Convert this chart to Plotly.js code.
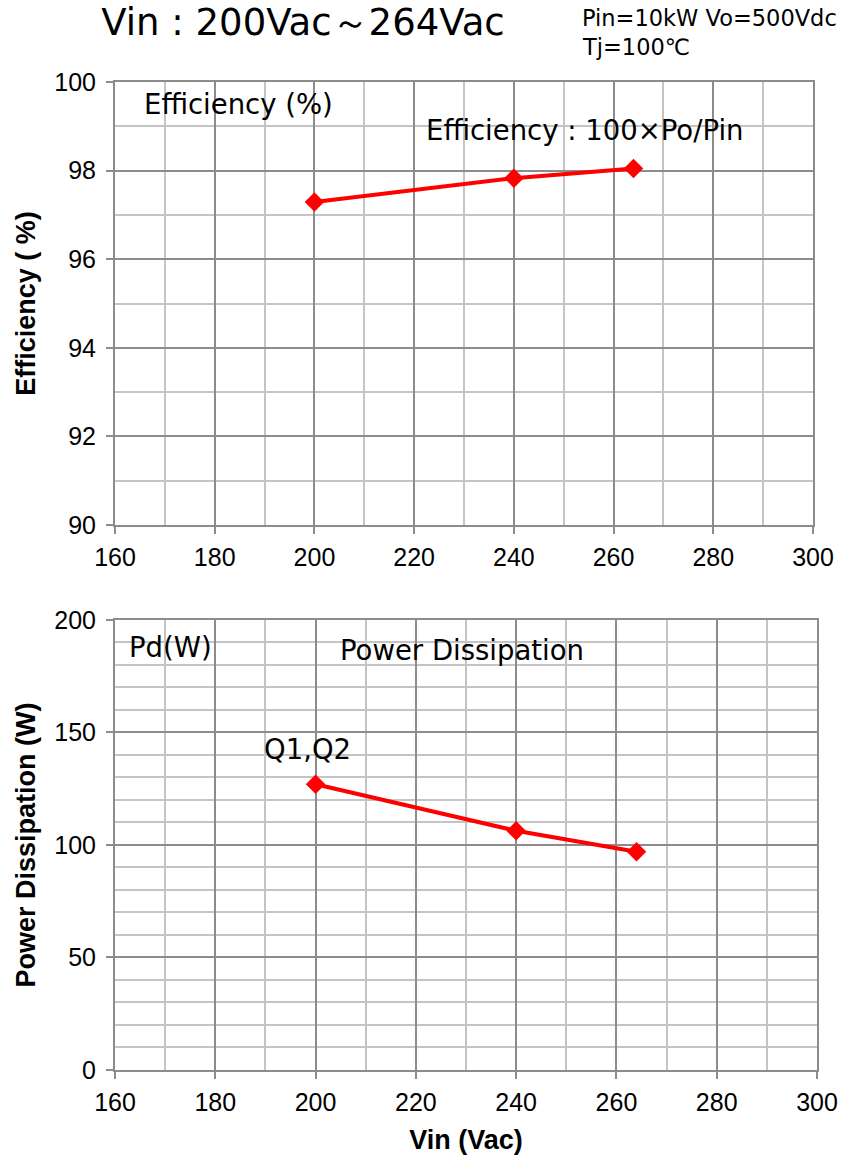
<!DOCTYPE html>
<html>
<head>
<meta charset="utf-8">
<script src="https://cdn.plot.ly/plotly-3.0.1.min.js"></script>
<style>html,body{margin:0;padding:0;background:#fff;}#chart{width:856px;height:1155px;}</style>
</head>
<body>
<div id="chart"></div>
<script>
// Data
const vin = [200, 240, 264];                 // Vin (Vac)
const efficiency = [97.29, 97.83, 98.05];    // %
const powerDissipation = [127.0, 106.3, 97.0]; // W, Q1,Q2

const effTicks = [90, 92, 94, 96, 98, 100];
const pdTicks = [0, 50, 100, 150, 200];
const vinTicks = [160, 180, 200, 220, 240, 260, 280, 300];

const titleText = 'Vin : 200Vac～264Vac';
const condLine1 = 'Pin=10kW Vo=500Vdc';
const condLine2 = 'Tj=100℃';

const MAJ = '#8c8c8c', MIN = '#c4c4c4';
const tickFont = {family: 'Liberation Sans, Arial, sans-serif', size: 25, color: '#000'};
const titleFont = {family: 'Liberation Sans, Arial, sans-serif', size: 27, color: '#000', weight: 'bold'};
const noteFont = {family: 'DejaVu Sans, Verdana, sans-serif', size: 27.5, color: '#000'};
const condFont = {family: 'DejaVu Sans, Verdana, sans-serif', size: 22.5, color: '#000'};

function xAxis(domain, anchor, withTitle) {
  const ax = {
    domain: domain, anchor: anchor, range: [160, 300],
    tickmode: 'array', tickvals: vinTicks, ticktext: vinTicks.map(String),
    ticks: 'outside', ticklen: 7, tickwidth: 2, tickcolor: MAJ, ticklabelstandoff: 2,
    showgrid: true, gridcolor: MAJ, gridwidth: 2,
    minor: {dtick: 10, tick0: 160, showgrid: true, gridcolor: MIN, gridwidth: 2, ticks: ''},
    showline: true, linecolor: MAJ, linewidth: 2, mirror: true,
    zeroline: false, tickfont: tickFont, fixedrange: true
  };
  if (withTitle) ax.title = {text: 'Vin (Vac)', font: titleFont, standoff: 15};
  return ax;
}
function yAxis(domain, anchor, range, ticks, minorStep, title) {
  return {
    domain: domain, anchor: anchor, range: range,
    tickmode: 'array', tickvals: ticks, ticktext: ticks.map(String),
    ticks: 'outside', ticklen: 7, tickwidth: 2, tickcolor: MAJ, ticklabelstandoff: 5,
    showgrid: true, gridcolor: MAJ, gridwidth: 2,
    minor: {dtick: minorStep, tick0: range[0], showgrid: true, gridcolor: MIN, gridwidth: 2, ticks: ''},
    showline: true, linecolor: MAJ, linewidth: 2, mirror: true,
    zeroline: false, tickfont: tickFont, fixedrange: true,
    title: {text: title, font: titleFont, standoff: 11}
  };
}

const traces = [
  {x: vin, y: efficiency, xaxis: 'x', yaxis: 'y', mode: 'lines+markers',
   line: {color: '#ff0000', width: 4}, marker: {symbol: 'diamond', size: 15, color: '#ff0000'},
   name: 'Efficiency', showlegend: false, hoverinfo: 'x+y'},
  {x: vin, y: powerDissipation, xaxis: 'x2', yaxis: 'y2', mode: 'lines+markers',
   line: {color: '#ff0000', width: 4}, marker: {symbol: 'diamond', size: 15, color: '#ff0000'},
   name: 'Q1,Q2', showlegend: false, hoverinfo: 'x+y'}
];

const layout = {
  width: 856, height: 1155,
  paper_bgcolor: '#fff', plot_bgcolor: '#fff',
  margin: {l: 115, r: 39, t: 82, b: 85},
  showlegend: false,
  title: {text: titleText, font: {family: 'DejaVu Sans, Verdana, sans-serif', size: 37, color: '#000'},
          x: 0.354, xanchor: 'center', y: 0.981, yanchor: 'middle', xref: 'container', yref: 'container'},
  xaxis: xAxis([0, 0.9943], 'y', false),
  yaxis: yAxis([0.5516, 1], 'x', [90, 100], effTicks, 1, 'Efficiency ( %)'),
  xaxis2: xAxis([0, 1], 'y2', true),
  yaxis2: yAxis([0, 0.4555], 'x2', [0, 200], pdTicks, 10, 'Power Dissipation (W)'),
  annotations: [
    {text: condLine1, xref: 'paper', yref: 'paper', x: 0.662, y: (1070 - 18) / 988, xanchor: 'left', yanchor: 'middle',
     showarrow: false, font: condFont},
    {text: condLine2, xref: 'paper', yref: 'paper', x: 0.662, y: (1070 - 47) / 988, xanchor: 'left', yanchor: 'middle',
     showarrow: false, font: condFont},
    {text: 'Efficiency (%)', xref: 'x', yref: 'y', x: 165.4, y: 99.5, xanchor: 'left', yanchor: 'middle',
     showarrow: false, font: noteFont},
    {text: 'Efficiency : 100×Po/Pin', xref: 'x', yref: 'y', x: 222.0, y: 98.92, xanchor: 'left', yanchor: 'middle',
     showarrow: false, font: noteFont},
    {text: 'Pd(W)', xref: 'x2', yref: 'y2', x: 162.4, y: 188, xanchor: 'left', yanchor: 'middle',
     showarrow: false, font: noteFont},
    {text: 'Power Dissipation', xref: 'x2', yref: 'y2', x: 204.5, y: 186.7, xanchor: 'left', yanchor: 'middle',
     showarrow: false, font: noteFont},
    {text: 'Q1,Q2', xref: 'x2', yref: 'y2', x: 189.3, y: 142.7, xanchor: 'left', yanchor: 'middle',
     showarrow: false, font: noteFont}
  ]
};

Plotly.newPlot('chart', traces, layout, {staticPlot: true, displayModeBar: false});
</script>
</body>
</html>
